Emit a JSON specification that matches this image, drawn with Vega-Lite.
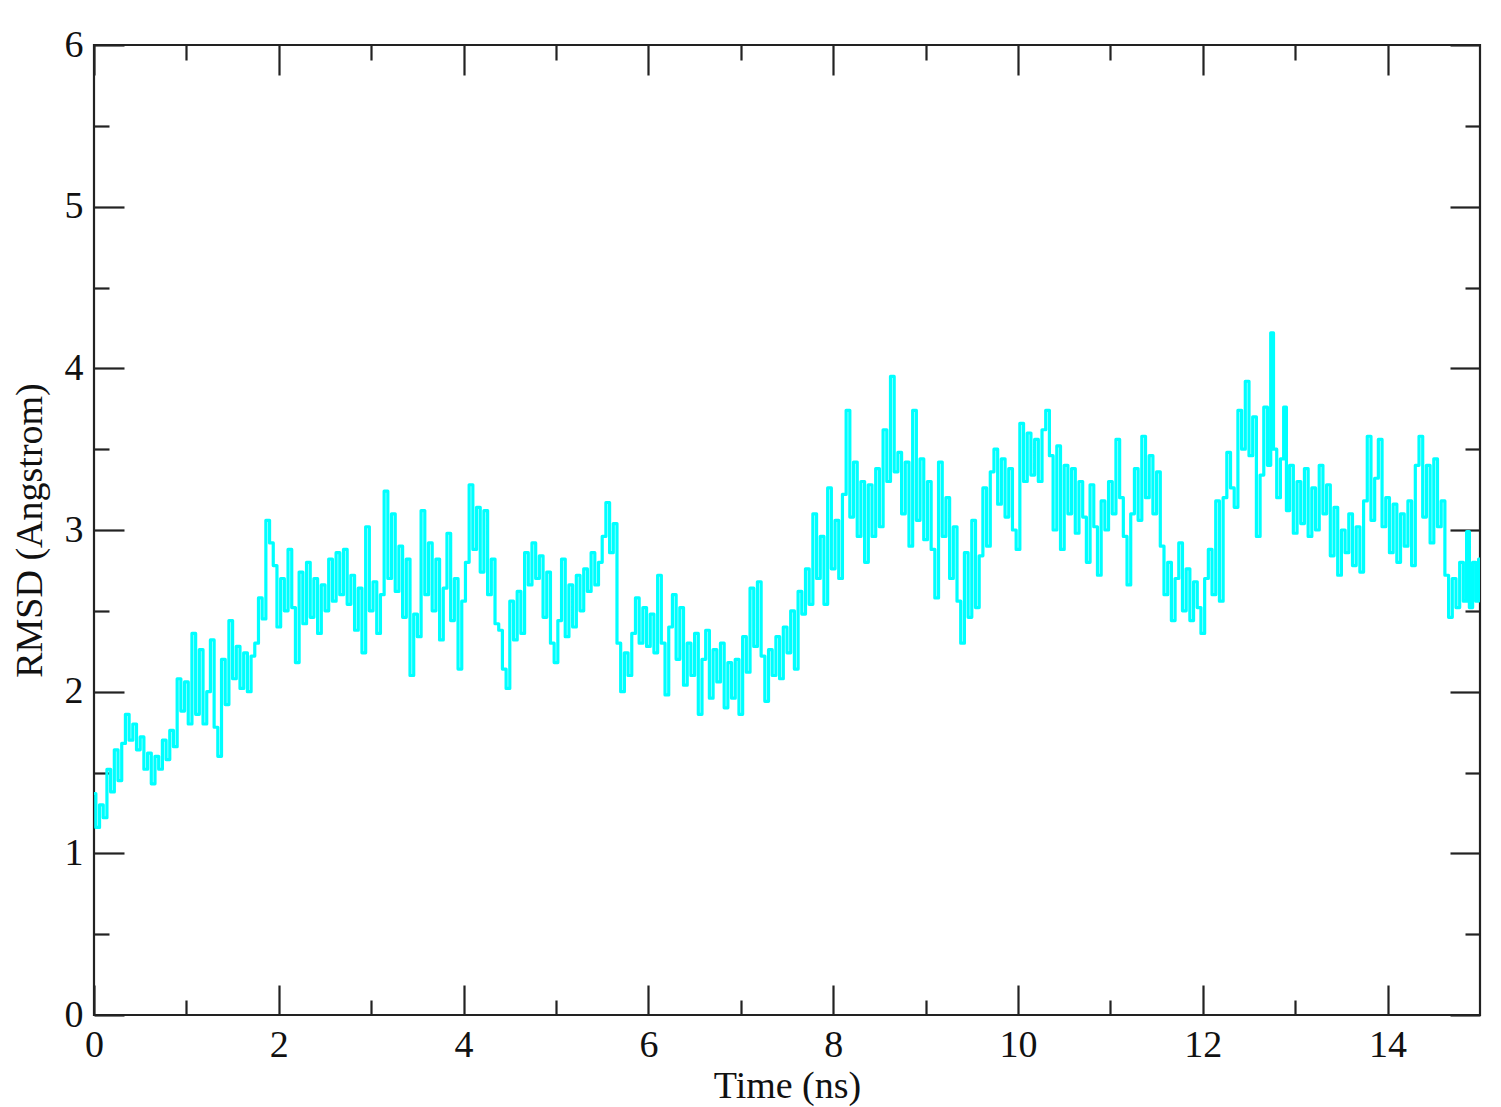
{
  "$schema": "https://vega.github.io/schema/vega-lite/v6.json",
  "width": 1386,
  "height": 970,
  "autosize": {"type": "none"},
  "padding": {"left": 94, "top": 45, "right": 21, "bottom": 92},
  "background": "white",
  "config": {
    "view": {"stroke": "#222", "strokeWidth": 2.2},
    "axis": {"grid": false, "domain": false, "labelFont": "Liberation Serif", "titleFont": "Liberation Serif", "labelColor": "#111", "titleColor": "#111", "labelFontSize": 38, "titleFontSize": 38, "titleFontWeight": "normal", "tickColor": "#222", "tickWidth": 2.2}
  },
  "data": {"values": [
{"t":0.00,"r":1.37},{"t":0.04,"r":1.16},{"t":0.08,"r":1.30},{"t":0.12,"r":1.22},{"t":0.16,"r":1.52},{"t":0.20,"r":1.38},{"t":0.24,"r":1.64},{"t":0.28,"r":1.45},{"t":0.32,"r":1.68},{"t":0.36,"r":1.86},
{"t":0.40,"r":1.70},{"t":0.44,"r":1.80},{"t":0.48,"r":1.64},{"t":0.52,"r":1.72},{"t":0.56,"r":1.52},{"t":0.60,"r":1.62},{"t":0.64,"r":1.43},{"t":0.68,"r":1.60},{"t":0.72,"r":1.52},{"t":0.76,"r":1.70},
{"t":0.80,"r":1.58},{"t":0.84,"r":1.76},{"t":0.88,"r":1.66},{"t":0.92,"r":2.08},{"t":0.96,"r":1.88},{"t":1.00,"r":2.06},{"t":1.04,"r":1.80},{"t":1.08,"r":2.36},{"t":1.12,"r":1.86},{"t":1.16,"r":2.26},
{"t":1.20,"r":1.80},{"t":1.24,"r":2.00},{"t":1.28,"r":2.32},{"t":1.32,"r":1.78},{"t":1.36,"r":1.60},{"t":1.40,"r":2.20},{"t":1.44,"r":1.92},{"t":1.48,"r":2.44},{"t":1.52,"r":2.08},{"t":1.56,"r":2.28},
{"t":1.60,"r":2.02},{"t":1.64,"r":2.24},{"t":1.68,"r":2.00},{"t":1.72,"r":2.22},{"t":1.76,"r":2.30},{"t":1.80,"r":2.58},{"t":1.84,"r":2.45},{"t":1.88,"r":3.06},{"t":1.92,"r":2.92},{"t":1.96,"r":2.78},
{"t":2.00,"r":2.40},{"t":2.04,"r":2.70},{"t":2.08,"r":2.50},{"t":2.12,"r":2.88},{"t":2.16,"r":2.52},{"t":2.20,"r":2.18},{"t":2.24,"r":2.74},{"t":2.28,"r":2.42},{"t":2.32,"r":2.80},{"t":2.36,"r":2.46},
{"t":2.40,"r":2.70},{"t":2.44,"r":2.36},{"t":2.48,"r":2.66},{"t":2.52,"r":2.50},{"t":2.56,"r":2.82},{"t":2.60,"r":2.56},{"t":2.64,"r":2.86},{"t":2.68,"r":2.60},{"t":2.72,"r":2.88},{"t":2.76,"r":2.54},
{"t":2.80,"r":2.72},{"t":2.84,"r":2.38},{"t":2.88,"r":2.64},{"t":2.92,"r":2.24},{"t":2.96,"r":3.02},{"t":3.00,"r":2.50},{"t":3.04,"r":2.68},{"t":3.08,"r":2.36},{"t":3.12,"r":2.60},{"t":3.16,"r":3.24},
{"t":3.20,"r":2.70},{"t":3.24,"r":3.10},{"t":3.28,"r":2.62},{"t":3.32,"r":2.90},{"t":3.36,"r":2.46},{"t":3.40,"r":2.82},{"t":3.44,"r":2.10},{"t":3.48,"r":2.48},{"t":3.52,"r":2.34},{"t":3.56,"r":3.12},
{"t":3.60,"r":2.60},{"t":3.64,"r":2.92},{"t":3.68,"r":2.50},{"t":3.72,"r":2.82},{"t":3.76,"r":2.32},{"t":3.80,"r":2.64},{"t":3.84,"r":2.98},{"t":3.88,"r":2.44},{"t":3.92,"r":2.70},{"t":3.96,"r":2.14},
{"t":4.00,"r":2.56},{"t":4.04,"r":2.80},{"t":4.08,"r":3.28},{"t":4.12,"r":2.88},{"t":4.16,"r":3.14},{"t":4.20,"r":2.74},{"t":4.24,"r":3.12},{"t":4.28,"r":2.60},{"t":4.32,"r":2.82},{"t":4.36,"r":2.42},
{"t":4.40,"r":2.38},{"t":4.44,"r":2.14},{"t":4.48,"r":2.02},{"t":4.52,"r":2.56},{"t":4.56,"r":2.32},{"t":4.60,"r":2.62},{"t":4.64,"r":2.36},{"t":4.68,"r":2.86},{"t":4.72,"r":2.66},{"t":4.76,"r":2.92},
{"t":4.80,"r":2.70},{"t":4.84,"r":2.84},{"t":4.88,"r":2.46},{"t":4.92,"r":2.74},{"t":4.96,"r":2.30},{"t":5.00,"r":2.18},{"t":5.04,"r":2.44},{"t":5.08,"r":2.82},{"t":5.12,"r":2.34},{"t":5.16,"r":2.66},
{"t":5.20,"r":2.40},{"t":5.24,"r":2.72},{"t":5.28,"r":2.50},{"t":5.32,"r":2.76},{"t":5.36,"r":2.62},{"t":5.40,"r":2.86},{"t":5.44,"r":2.66},{"t":5.48,"r":2.80},{"t":5.52,"r":2.96},{"t":5.56,"r":3.17},
{"t":5.60,"r":2.86},{"t":5.64,"r":3.04},{"t":5.68,"r":2.30},{"t":5.72,"r":2.00},{"t":5.76,"r":2.24},{"t":5.80,"r":2.10},{"t":5.84,"r":2.36},{"t":5.88,"r":2.58},{"t":5.92,"r":2.30},{"t":5.96,"r":2.52},
{"t":6.00,"r":2.28},{"t":6.04,"r":2.48},{"t":6.08,"r":2.24},{"t":6.12,"r":2.72},{"t":6.16,"r":2.30},{"t":6.20,"r":1.98},{"t":6.24,"r":2.40},{"t":6.28,"r":2.60},{"t":6.32,"r":2.20},{"t":6.36,"r":2.52},
{"t":6.40,"r":2.04},{"t":6.44,"r":2.30},{"t":6.48,"r":2.10},{"t":6.52,"r":2.36},{"t":6.56,"r":1.86},{"t":6.60,"r":2.20},{"t":6.64,"r":2.38},{"t":6.68,"r":1.96},{"t":6.72,"r":2.26},{"t":6.76,"r":2.06},
{"t":6.80,"r":2.30},{"t":6.84,"r":1.90},{"t":6.88,"r":2.18},{"t":6.92,"r":1.96},{"t":6.96,"r":2.20},{"t":7.00,"r":1.86},{"t":7.04,"r":2.34},{"t":7.08,"r":2.12},{"t":7.12,"r":2.64},{"t":7.16,"r":2.28},
{"t":7.20,"r":2.68},{"t":7.24,"r":2.22},{"t":7.28,"r":1.94},{"t":7.32,"r":2.26},{"t":7.36,"r":2.10},{"t":7.40,"r":2.34},{"t":7.44,"r":2.08},{"t":7.48,"r":2.40},{"t":7.52,"r":2.24},{"t":7.56,"r":2.50},
{"t":7.60,"r":2.14},{"t":7.64,"r":2.62},{"t":7.68,"r":2.48},{"t":7.72,"r":2.76},{"t":7.76,"r":2.54},{"t":7.80,"r":3.10},{"t":7.84,"r":2.70},{"t":7.88,"r":2.96},{"t":7.92,"r":2.54},{"t":7.96,"r":3.26},
{"t":8.00,"r":2.76},{"t":8.04,"r":3.06},{"t":8.08,"r":2.70},{"t":8.12,"r":3.22},{"t":8.16,"r":3.74},{"t":8.20,"r":3.08},{"t":8.24,"r":3.42},{"t":8.28,"r":2.96},{"t":8.32,"r":3.30},{"t":8.36,"r":2.80},
{"t":8.40,"r":3.28},{"t":8.44,"r":2.96},{"t":8.48,"r":3.38},{"t":8.52,"r":3.02},{"t":8.56,"r":3.62},{"t":8.60,"r":3.30},{"t":8.64,"r":3.95},{"t":8.68,"r":3.36},{"t":8.72,"r":3.48},{"t":8.76,"r":3.10},
{"t":8.80,"r":3.42},{"t":8.84,"r":2.90},{"t":8.88,"r":3.74},{"t":8.92,"r":3.06},{"t":8.96,"r":3.44},{"t":9.00,"r":2.94},{"t":9.04,"r":3.30},{"t":9.08,"r":2.88},{"t":9.12,"r":2.58},{"t":9.16,"r":3.42},
{"t":9.20,"r":2.96},{"t":9.24,"r":3.20},{"t":9.28,"r":2.70},{"t":9.32,"r":3.02},{"t":9.36,"r":2.56},{"t":9.40,"r":2.30},{"t":9.44,"r":2.86},{"t":9.48,"r":2.46},{"t":9.52,"r":3.06},{"t":9.56,"r":2.52},
{"t":9.60,"r":2.84},{"t":9.64,"r":3.26},{"t":9.68,"r":2.90},{"t":9.72,"r":3.36},{"t":9.76,"r":3.50},{"t":9.80,"r":3.16},{"t":9.84,"r":3.44},{"t":9.88,"r":3.08},{"t":9.92,"r":3.38},{"t":9.96,"r":3.00},
{"t":10.00,"r":2.88},{"t":10.04,"r":3.66},{"t":10.08,"r":3.30},{"t":10.12,"r":3.60},{"t":10.16,"r":3.34},{"t":10.20,"r":3.56},{"t":10.24,"r":3.30},{"t":10.28,"r":3.62},{"t":10.32,"r":3.74},{"t":10.36,"r":3.46},
{"t":10.40,"r":3.00},{"t":10.44,"r":3.52},{"t":10.48,"r":2.88},{"t":10.52,"r":3.40},{"t":10.56,"r":3.10},{"t":10.60,"r":3.38},{"t":10.64,"r":2.98},{"t":10.68,"r":3.30},{"t":10.72,"r":3.08},{"t":10.76,"r":2.80},
{"t":10.80,"r":3.28},{"t":10.84,"r":3.02},{"t":10.88,"r":2.72},{"t":10.92,"r":3.18},{"t":10.96,"r":3.00},{"t":11.00,"r":3.30},{"t":11.04,"r":3.10},{"t":11.08,"r":3.56},{"t":11.12,"r":3.20},{"t":11.16,"r":2.96},
{"t":11.20,"r":2.66},{"t":11.24,"r":3.10},{"t":11.28,"r":3.38},{"t":11.32,"r":3.06},{"t":11.36,"r":3.58},{"t":11.40,"r":3.20},{"t":11.44,"r":3.46},{"t":11.48,"r":3.10},{"t":11.52,"r":3.36},{"t":11.56,"r":2.90},
{"t":11.60,"r":2.60},{"t":11.64,"r":2.80},{"t":11.68,"r":2.44},{"t":11.72,"r":2.70},{"t":11.76,"r":2.92},{"t":11.80,"r":2.50},{"t":11.84,"r":2.76},{"t":11.88,"r":2.44},{"t":11.92,"r":2.68},{"t":11.96,"r":2.52},
{"t":12.00,"r":2.36},{"t":12.04,"r":2.70},{"t":12.08,"r":2.88},{"t":12.12,"r":2.60},{"t":12.16,"r":3.18},{"t":12.20,"r":2.56},{"t":12.24,"r":3.20},{"t":12.28,"r":3.48},{"t":12.32,"r":3.26},{"t":12.36,"r":3.14},
{"t":12.40,"r":3.74},{"t":12.44,"r":3.50},{"t":12.48,"r":3.92},{"t":12.52,"r":3.46},{"t":12.56,"r":3.70},{"t":12.60,"r":2.96},{"t":12.64,"r":3.34},{"t":12.68,"r":3.76},{"t":12.72,"r":3.40},{"t":12.75,"r":4.22},
{"t":12.78,"r":3.50},{"t":12.82,"r":3.20},{"t":12.86,"r":3.44},{"t":12.89,"r":3.76},{"t":12.92,"r":3.12},{"t":12.96,"r":3.40},{"t":13.00,"r":2.98},{"t":13.04,"r":3.30},{"t":13.08,"r":3.04},{"t":13.12,"r":3.38},
{"t":13.16,"r":2.96},{"t":13.20,"r":3.26},{"t":13.24,"r":3.00},{"t":13.28,"r":3.40},{"t":13.32,"r":3.10},{"t":13.36,"r":3.28},{"t":13.40,"r":2.84},{"t":13.44,"r":3.14},{"t":13.48,"r":2.72},{"t":13.52,"r":3.00},
{"t":13.56,"r":2.86},{"t":13.60,"r":3.10},{"t":13.64,"r":2.78},{"t":13.68,"r":3.02},{"t":13.72,"r":2.74},{"t":13.76,"r":3.18},{"t":13.80,"r":3.58},{"t":13.84,"r":3.06},{"t":13.88,"r":3.32},{"t":13.92,"r":3.56},
{"t":13.96,"r":3.02},{"t":14.00,"r":3.20},{"t":14.04,"r":2.86},{"t":14.08,"r":3.16},{"t":14.12,"r":2.80},{"t":14.16,"r":3.10},{"t":14.20,"r":2.90},{"t":14.24,"r":3.18},{"t":14.28,"r":2.78},{"t":14.32,"r":3.40},
{"t":14.36,"r":3.58},{"t":14.40,"r":3.08},{"t":14.44,"r":3.40},{"t":14.48,"r":2.92},{"t":14.52,"r":3.44},{"t":14.56,"r":3.02},{"t":14.60,"r":3.18},{"t":14.64,"r":2.72},{"t":14.68,"r":2.46},{"t":14.72,"r":2.70},
{"t":14.76,"r":2.52},{"t":14.80,"r":2.80},{"t":14.84,"r":2.56},{"t":14.87,"r":2.99},{"t":14.90,"r":2.52},{"t":14.94,"r":2.80},{"t":14.97,"r":2.56},{"t":15.00,"r":2.82}
  ]},
  "layer": [
    {
      "mark": {"type": "line", "color": "#00FFFF", "strokeWidth": 3.2, "interpolate": "step", "strokeJoin": "round", "strokeCap": "round", "clip": true},
      "encoding": {
        "x": {"field": "t", "type": "quantitative", "scale": {"domain": [0, 15], "nice": false, "zero": false},
              "axis": {"orient": "bottom", "values": [0, 2, 4, 6, 8, 10, 12, 14], "ticks": false, "labelPadding": 11, "title": "Time (ns)", "titlePadding": 3, "labelFlush": false}},
        "y": {"field": "r", "type": "quantitative", "scale": {"domain": [0, 6], "nice": false, "zero": false},
              "axis": {"orient": "left", "values": [0, 1, 2, 3, 4, 5, 6], "ticks": false, "labelPadding": 11, "title": "RMSD (Angstrom)", "titlePadding": 15}}
      }
    },
    {
      "mark": {"type": "line", "strokeOpacity": 0},
      "encoding": {
        "x": {"field": "t", "type": "quantitative", "axis": {"orient": "bottom", "values": [0, 2, 4, 6, 8, 10, 12, 14], "tickSize": -30, "labels": false, "title": null}},
        "y": {"field": "r", "type": "quantitative", "axis": {"orient": "left", "values": [0, 1, 2, 3, 4, 5, 6], "tickSize": -30, "labels": false, "title": null}}
      }
    },
    {
      "mark": {"type": "line", "strokeOpacity": 0},
      "encoding": {
        "x": {"field": "t", "type": "quantitative", "axis": {"orient": "top", "values": [0, 2, 4, 6, 8, 10, 12, 14], "tickSize": -30, "labels": false, "title": null}},
        "y": {"field": "r", "type": "quantitative", "axis": {"orient": "right", "values": [0, 1, 2, 3, 4, 5, 6], "tickSize": -30, "labels": false, "title": null}}
      }
    },
    {
      "mark": {"type": "line", "strokeOpacity": 0},
      "encoding": {
        "x": {"field": "t", "type": "quantitative", "axis": {"orient": "bottom", "values": [1, 3, 5, 7, 9, 11, 13], "tickSize": -15, "labels": false, "title": null}},
        "y": {"field": "r", "type": "quantitative", "axis": {"orient": "left", "values": [0.5, 1.5, 2.5, 3.5, 4.5, 5.5], "tickSize": -15, "labels": false, "title": null}}
      }
    },
    {
      "mark": {"type": "line", "strokeOpacity": 0},
      "encoding": {
        "x": {"field": "t", "type": "quantitative", "axis": {"orient": "top", "values": [1, 3, 5, 7, 9, 11, 13], "tickSize": -15, "labels": false, "title": null}},
        "y": {"field": "r", "type": "quantitative", "axis": {"orient": "right", "values": [0.5, 1.5, 2.5, 3.5, 4.5, 5.5], "tickSize": -15, "labels": false, "title": null}}
      }
    }
  ],
  "resolve": {"axis": {"x": "independent", "y": "independent"}}
}
